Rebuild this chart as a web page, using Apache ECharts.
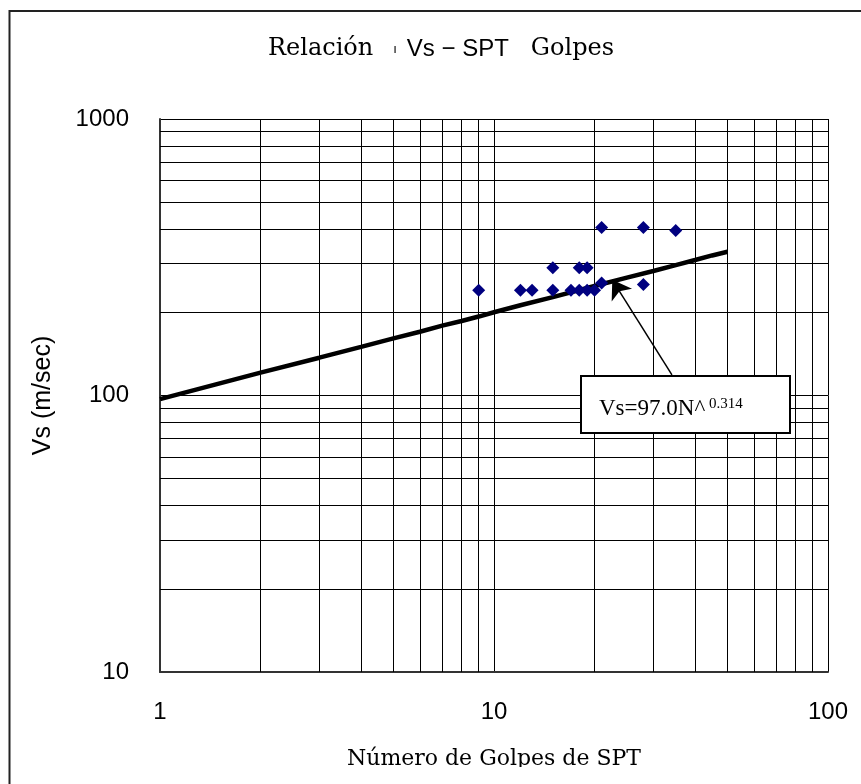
<!DOCTYPE html>
<html>
<head>
<meta charset="utf-8">
<script src="https://cdn.jsdelivr.net/npm/echarts@6/dist/echarts.min.js"></script>
<style>
html,body{margin:0;padding:0;background:#fff;}
#c{width:861px;height:784px;}
</style>
</head>
<body>
<div id="c"></div>
<script>
// Observed data (SPT blow count N vs shear-wave velocity Vs, m/s)
const sptN = [9, 12, 13, 15, 15, 17, 18, 18, 19, 19, 20, 21, 21, 28, 28, 35];
const vsObs = [240, 240, 240, 240, 290, 240, 240, 290, 290, 240, 240, 255, 405, 405, 252, 395];

// Trend line (Vs=97.0N^0.314)
const trendN  = [1, 2, 3, 4, 5, 6, 7, 8, 9, 10, 12, 15, 20, 25, 30, 35, 40, 45, 50];
const trendVs = [97, 121, 137, 150, 161, 170, 179, 186, 193, 200, 212, 227, 249, 267, 282, 296, 309, 321, 331];

// Grid lines and tick labels
const xMinor = [2, 3, 4, 5, 6, 7, 8, 9, 20, 30, 40, 50, 60, 70, 80, 90];
const yMinor = [20, 30, 40, 50, 60, 70, 80, 90, 200, 300, 400, 500, 600, 700, 800, 900];

// Annotation arrow (data coords)
const arrowFrom = [34.1, 118.7];
const arrowTo = [22.6, 262];

const chart = echarts.init(document.getElementById('c'), null, {renderer: 'canvas'});

const gridLines = [];
xMinor.forEach(v => gridLines.push({xAxis: v}));
yMinor.forEach(v => gridLines.push({yAxis: v}));

const option = {
  animation: false,
  backgroundColor: '#fff',
  grid: {left: 160, right: 33, top: 119, bottom: 112, containLabel: false},
  xAxis: {
    type: 'log', logBase: 10, min: 1, max: 100,
    axisLine: {show: true, onZero: false, lineStyle: {color: '#333', width: 2}},
    axisTick: {show: false},
    splitLine: {show: true, lineStyle: {color: '#000', width: 1}},
    axisLabel: {fontFamily: 'Liberation Sans', fontSize: 24, color: '#000', margin: 28, showMaxLabel: true, showMinLabel: true,
      formatter: v => String(Math.round(v))},
    name: 'Número de Golpes de SPT', nameLocation: 'middle', nameGap: 76,
    nameTextStyle: {fontFamily: 'DejaVu Serif', fontSize: 22, color: '#000'}
  },
  yAxis: {
    type: 'log', logBase: 10, min: 10, max: 1000,
    axisLine: {show: true, onZero: false, lineStyle: {color: '#333', width: 2}},
    axisTick: {show: false},
    splitLine: {show: true, lineStyle: {color: '#000', width: 1}},
    axisLabel: {fontFamily: 'Liberation Sans', fontSize: 24, color: '#000', margin: 31,
      formatter: v => String(Math.round(v))},
    name: 'Vs (m/sec)', nameLocation: 'middle', nameGap: 104, nameRotate: 90,
    nameTextStyle: {fontFamily: 'Liberation Sans', fontSize: 25, color: '#000'}
  },
  series: [
    {
      type: 'line', name: 'trend', z: 2,
      data: trendN.map((n, i) => [n, trendVs[i]]),
      showSymbol: false, symbol: 'none',
      lineStyle: {color: '#000', width: 4.5},
      silent: true,
      markLine: {
        silent: true, symbol: ['none', 'none'], label: {show: false},
        lineStyle: {color: '#000', width: 1, type: 'solid'},
        emphasis: {disabled: true},
        data: gridLines
      }
    },
    {
      type: 'scatter', name: 'obs', z: 5,
      data: sptN.map((n, i) => [n, vsObs[i]]),
      symbol: 'diamond', symbolSize: 13,
      itemStyle: {color: '#000080', opacity: 1},
      markLine: {
        silent: true, symbol: ['none', 'arrow'], symbolSize: 18,
        label: {show: false},
        lineStyle: {color: '#000', width: 1.5, type: 'solid'},
        itemStyle: {color: '#000'},
        emphasis: {disabled: true},
        data: [[{coord: arrowFrom}, {coord: arrowTo}]]
      }
    }
  ],
  graphic: [
    {type: 'rect', z: 0, silent: true,
     shape: {x: 9.5, y: 11, width: 900, height: 800},
     style: {fill: 'none', stroke: '#222', lineWidth: 2}},
    {type: 'rect', z: 200, silent: true,
     shape: {x: 11, y: 767, width: 860, height: 30},
     style: {fill: '#fff', stroke: 'none'}},
    {type: 'text', z: 100, x: 441, y: 49, silent: true,
     style: {
       text: '{s|Relación}{t|ı}{a|Vs − SPT}{g|Golpes}',
       textAlign: 'center', textVerticalAlign: 'middle',
       rich: {
         s: {fontFamily: 'DejaVu Serif', fontSize: 24, color: '#000', padding: [0, 20, 0, 0]},
         t: {fontFamily: 'Liberation Sans', fontSize: 13, color: '#000', padding: [0, 10, 0, 0]},
         a: {fontFamily: 'Liberation Sans', fontSize: 24, color: '#000'},
         g: {fontFamily: 'DejaVu Serif', fontSize: 24, color: '#000', padding: [0, 0, 0, 22]}
       }
     }},
    {type: 'rect', z: 100, silent: true,
     shape: {x: 581, y: 376, width: 209, height: 57},
     style: {fill: '#fff', stroke: '#000', lineWidth: 2}},
    {type: 'text', z: 101, x: 599, y: 409, silent: true,
     style: {text: 'Vs=97.0N^', fontFamily: 'Liberation Serif', fontSize: 23, fill: '#000', textVerticalAlign: 'middle'}},
    {type: 'text', z: 101, x: 709, y: 404, silent: true,
     style: {text: '0.314', fontFamily: 'Liberation Serif', fontSize: 15, fill: '#000', textVerticalAlign: 'middle'}}
  ]
};
chart.setOption(option);
</script>
</body>
</html>
